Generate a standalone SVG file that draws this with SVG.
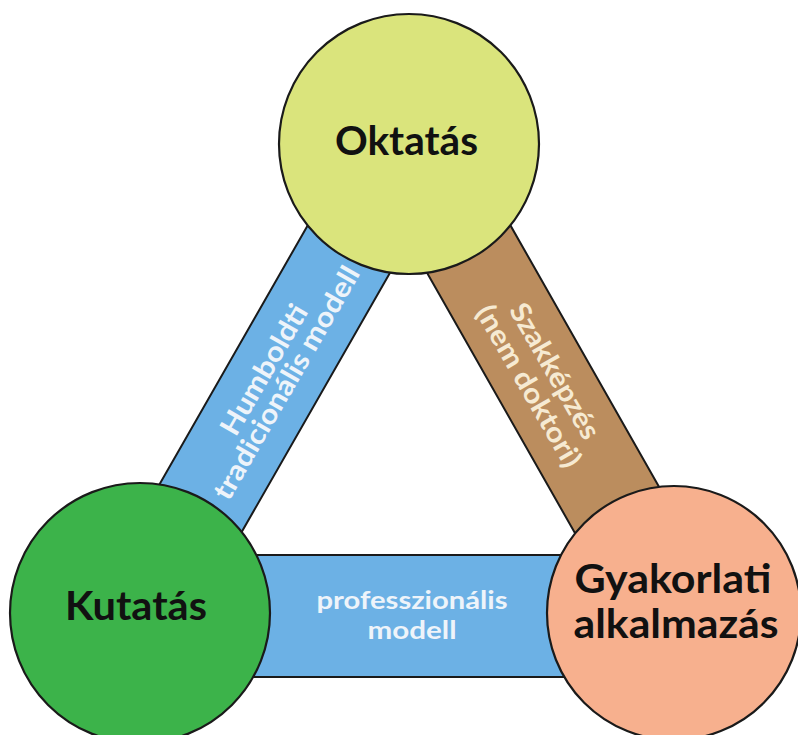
<svg xmlns="http://www.w3.org/2000/svg" width="798" height="735" viewBox="0 0 798 735">
<style>
.bar{stroke:#1a1a1a;stroke-width:2;stroke-linejoin:miter}
.node{stroke:#1a1a1a;stroke-width:2.2}
.lbl{font-family:Lato,"Open Sans","Liberation Sans",sans-serif;font-weight:700;text-anchor:middle}
.big{font-size:40px;fill:#111111}
.small{font-size:28px}
.mid{font-size:24px}
.wt{fill:#eef4fa}
.cr{fill:#f6ead2}
</style>
<rect width="798" height="735" fill="#ffffff"/>
<g id="connectors">
  <g id="edge-humboldti">
    <polygon class="bar" fill="#6cb1e5" points="98.8,590.4 181.2,637.6 450.2,167.6 367.8,120.4"/>
    <g transform="translate(276.6,377.1) rotate(-60)">
      <text class="lbl small wt" x="0" y="-5" textLength="146" lengthAdjust="spacingAndGlyphs">Humboldti</text>
      <text class="lbl small wt" x="0" y="21" textLength="264" lengthAdjust="spacingAndGlyphs">tradicionális modell</text>
    </g>
  </g>
  <g id="edge-szakkepzes">
    <polygon class="bar" fill="#bb8d5e" points="367.3,167.7 450.7,120.3 716.7,588.3 633.3,635.7"/>
    <g transform="translate(543.9,377.4) rotate(60)">
      <text class="lbl small cr" x="0" y="-3" textLength="152" lengthAdjust="spacingAndGlyphs">Szakképzés</text>
      <text class="lbl small cr" x="0" y="27" textLength="182" lengthAdjust="spacingAndGlyphs">(nem doktori)</text>
    </g>
  </g>
  <g id="edge-professzionalis">
    <rect class="bar" fill="#6cb1e5" x="200" y="555" width="420" height="122"/>
    <text class="lbl mid wt" x="412" y="609" textLength="191" lengthAdjust="spacingAndGlyphs">professzionális</text>
    <text class="lbl mid wt" x="412" y="639" textLength="89" lengthAdjust="spacingAndGlyphs">modell</text>
  </g>
</g>
<g id="node-oktatas">
  <circle class="node" cx="409" cy="144" r="130" fill="#dae47c"/>
  <text class="lbl big" x="406.5" y="155" textLength="143" lengthAdjust="spacingAndGlyphs">Oktatás</text>
</g>
<g id="node-kutatas">
  <circle class="node" cx="140" cy="613" r="130" fill="#3cb34a"/>
  <text class="lbl big" x="136" y="620" textLength="142" lengthAdjust="spacingAndGlyphs">Kutatás</text>
</g>
<g id="node-gyakorlati">
  <circle class="node" cx="674" cy="613" r="127" fill="#f7b08e"/>
  <text class="lbl big" x="673" y="593" textLength="197" lengthAdjust="spacingAndGlyphs">Gyakorlati</text>
  <text class="lbl big" x="676" y="638" textLength="205" lengthAdjust="spacingAndGlyphs">alkalmazás</text>
</g>
</svg>
